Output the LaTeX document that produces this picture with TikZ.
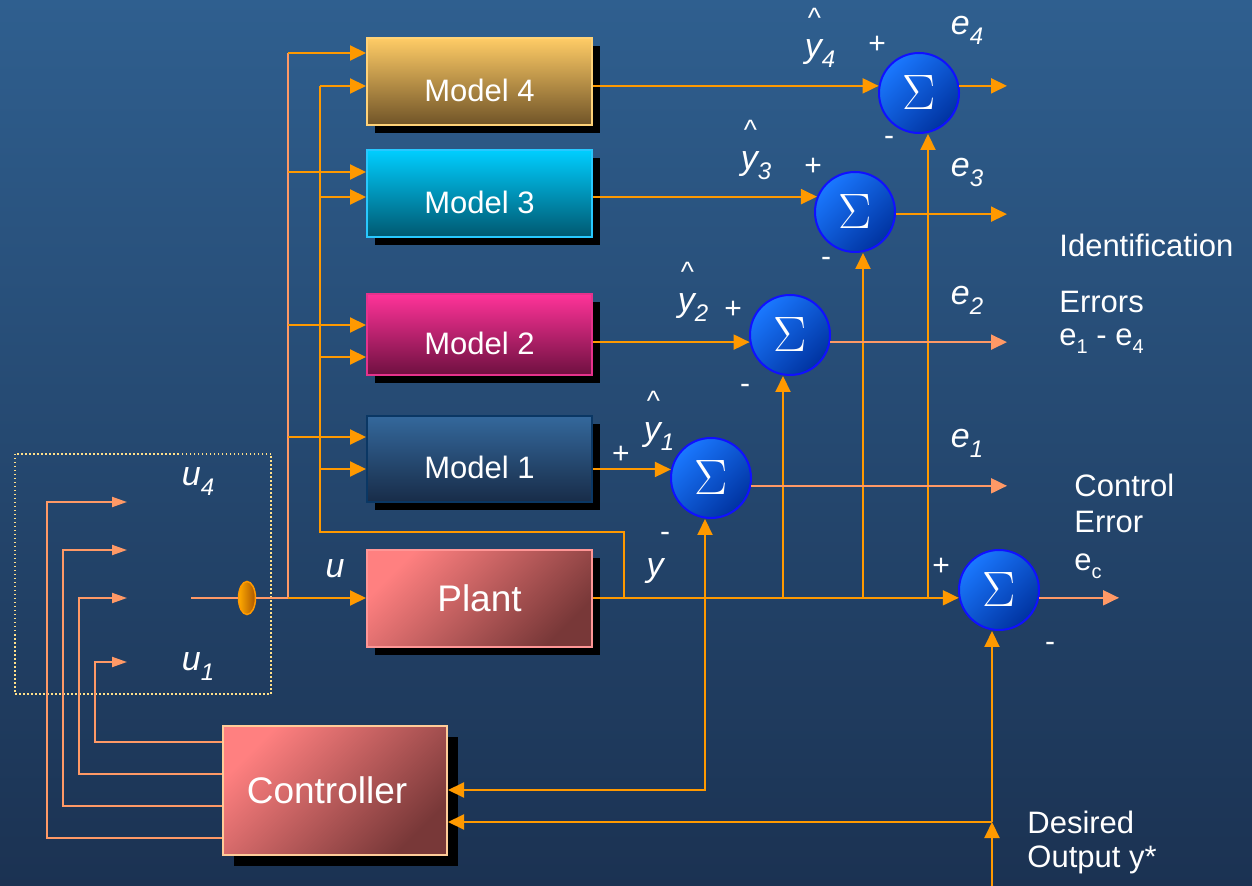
\documentclass[tikz,border=0pt]{standalone}
\usepackage{fontspec}
\setmainfont{Liberation Sans}
\newfontfamily\sigmafont{Liberation Serif}
\usetikzlibrary{arrows.meta,shapes.geometric,shadows,backgrounds,calc}
\definecolor{bgtop}{HTML}{2F5F8F}
\definecolor{bgbot}{HTML}{1B3252}
\definecolor{lorange}{HTML}{FF9900}
\definecolor{salmon}{HTML}{FF9966}
\definecolor{sigtop}{HTML}{1A78FF}
\definecolor{sigbot}{HTML}{0033A0}
\definecolor{sigline}{HTML}{1010FF}
\definecolor{dotcol}{HTML}{FFE08A}
\newcommand{\mtext}[1]{\raisebox{-10pt}[0pt][0pt]{#1}}
\newcommand{\sbx}[1]{\raisebox{-5pt}{\fontsize{12}{12}\selectfont #1}}
\newcommand{\yhatlab}[1]{\begin{tabular}{@{}l@{}}\hspace{1.5pt}\textup{\fontsize{14}{14}\selectfont\textasciicircum}\\[-3pt] y\sbx{#1}\end{tabular}}
\begin{document}
\begin{tikzpicture}[x=0.5pt,y=-0.5pt,
  every node/.style={text=white},
  lab/.style={inner sep=0pt, font=\fontsize{15.5}{18}\selectfont},
  ilab/.style={inner sep=0pt, font=\fontsize{17}{18}\selectfont\itshape},
  sgn/.style={inner sep=0pt, font=\fontsize{15}{18}\selectfont},
  arr/.style={draw=lorange, line width=1pt, -{Triangle[length=8pt,width=7.5pt]}},
  sarr/.style={draw=salmon, line width=1pt, -{Triangle[length=8pt,width=7.5pt]}},
  ssarr/.style={draw=salmon, line width=1pt, -{Triangle[length=7.5pt,width=5pt]}},
  oline/.style={draw=lorange, line width=1pt},
  sline/.style={draw=salmon, line width=1pt},
  mbox/.style={rectangle, draw, line width=1pt, minimum width=112.5pt, inner sep=0pt,
    font=\fontsize{15.5}{18}\selectfont,
    drop shadow={shadow xshift=4pt, shadow yshift=-4pt, opacity=1, fill=black}},
  sig/.style={circle, draw=sigline, line width=1pt, minimum size=40pt, inner sep=0pt,
    top color=sigtop, bottom color=sigbot, shading angle=45,
    font=\sigmafont\fontsize{28}{28}\selectfont}
]
\begin{scope}[on background layer]
\shade[top color=bgtop, bottom color=bgbot] (0,0) rectangle (1252,886);
\end{scope}
\useasboundingbox (0,0) rectangle (1252,886);

% dotted switch box
\draw[dotcol, line width=0.75pt, dash pattern=on 0.75pt off 1.25pt] (15,454) rectangle (271,694);

% blocks
\node[mbox, minimum height=43.5pt, draw={rgb,255:red,255;green,210;blue,120}, top color={rgb,255:red,255;green,204;blue,102}, bottom color={rgb,255:red,112;green,84;blue,40}] (m4) at (479.5,81.5) {\mtext{Model 4}};
\node[mbox, minimum height=43.5pt, draw={rgb,255:red,40;green,200;blue,255}, top color={rgb,255:red,0;green,206;blue,255}, bottom color={rgb,255:red,0;green,88;blue,112}] (m3) at (479.5,193.5) {\mtext{Model 3}};
\node[mbox, minimum height=40.5pt, draw={rgb,255:red,230;green,50;blue,140}, top color={rgb,255:red,255;green,51;blue,153}, bottom color={rgb,255:red,110;green,16;blue,64}] (m2) at (479.5,334.5) {\mtext{Model 2}};
\node[mbox, minimum height=43pt, draw={rgb,255:red,10;green,55;blue,100}, top color={rgb,255:red,52;green,104;blue,156}, bottom color={rgb,255:red,24;green,44;blue,72}] (m1) at (479.5,459) {\mtext{Model 1}};
\node[mbox, minimum height=48.5pt, draw={rgb,255:red,255;green,150;blue,150},
  font=\fontsize{18.5}{22}\selectfont,
  top color={rgb,255:red,255;green,128;blue,128}, bottom color={rgb,255:red,120;green,56;blue,56}, shading angle=45] (plant) at (479.5,598.5) {Plant};
\node[rectangle, draw={rgb,255:red,255;green,204;blue,153}, line width=1pt, minimum width=112pt, minimum height=64.5pt, inner sep=0pt,
  font=\fontsize{18.5}{22}\selectfont,
  drop shadow={shadow xshift=5.5pt, shadow yshift=-5.5pt, opacity=1, fill=black},
  top color={rgb,255:red,255;green,128;blue,128}, bottom color={rgb,255:red,120;green,56;blue,56}, shading angle=45] (ctrl) at (335,790.5) {\hspace*{-8pt}Controller};

% summing junctions
\node[sig] (s1) at (711,478) {$\Sigma$};
\node[sig] (s2) at (790,335) {$\Sigma$};
\node[sig] (s3) at (855,212) {$\Sigma$};
\node[sig] (s4) at (919,93) {$\Sigma$};
\node[sig] (sc) at (999,590) {$\Sigma$};

% switch
\node[ellipse, draw=lorange, line width=0.75pt, minimum width=8.5pt, minimum height=16.5pt, inner sep=0pt,
  left color={rgb,255:red,255;green,170;blue,0}, right color={rgb,255:red,170;green,85;blue,0}] (el) at (247,598) {};

% coordinates
\coordinate (sw) at (191,598);
\coordinate (ju) at (288,598);
\coordinate (u4a) at (288,53);
\coordinate (u3a) at (288,172);
\coordinate (u2a) at (288,325);
\coordinate (u1a) at (288,437);
\coordinate (yb) at (624,598);
\coordinate (yc) at (624,532);
\coordinate (yl) at (320,532);
\coordinate (y4b) at (320,86);
\coordinate (y3b) at (320,197);
\coordinate (y2b) at (320,357);
\coordinate (y1b) at (320,469);
\coordinate (j1) at (705,598);
\coordinate (j2) at (783,598);
\coordinate (j3) at (863,598);
\coordinate (j4) at (928,598);
\coordinate (c1) at (705,790);
\coordinate (d0) at (992,886);
\coordinate (d1) at (992,822);
\coordinate (ox) at (1007,0);
\coordinate (ocx) at (1119,0);
\coordinate (k1) at (95,742);  \coordinate (k1t) at (95,662);  \coordinate (t1) at (127,662);
\coordinate (k2) at (79,774);  \coordinate (k2t) at (79,598);  \coordinate (t2) at (127,598);
\coordinate (k3) at (63,806);  \coordinate (k3t) at (63,550);  \coordinate (t3) at (127,550);
\coordinate (k4) at (47,838);  \coordinate (k4t) at (47,502);  \coordinate (t4) at (127,502);

% switch and u line
\draw[sline] (sw) -- (el.west);
\draw[sline] (el.east) -- (ju);
\draw[sline] (ju) -- (u4a);
\draw[arr] (ju) -- (plant.west |- ju);
\draw[arr] (u4a) -- (u4a -| m4.west);
\draw[arr] (u3a) -- (u3a -| m3.west);
\draw[arr] (u2a) -- (u2a -| m2.west);
\draw[arr] (u1a) -- (u1a -| m1.west);

% plant output feedback to models
\draw[oline] (yb) -- (yc) -- (yl) -- (y4b);
\draw[arr] (y4b) -- (y4b -| m4.west);
\draw[arr] (y3b) -- (y3b -| m3.west);
\draw[arr] (y2b) -- (y2b -| m2.west);
\draw[arr] (y1b) -- (y1b -| m1.west);

% model outputs to sums
\draw[arr] (m4.east |- s4.170) -- (s4.170);
\draw[arr] (m3.east |- s3.158) -- (s3.158);
\draw[arr] (m2.east |- s2.190) -- (s2.190);
\draw[arr] (m1.east |- s1.168) -- (s1.168);

% plant output to control sum
\draw[arr] (plant.east |- sc.191) -- (sc.191);
\draw[arr] (j1) -- (j1 |- s1.south);
\draw[arr] (j2) -- (j2 |- s2.south);
\draw[arr] (j3) -- (j3 |- s3.south);
\draw[arr] (j4) -- (j4 |- s4.south);
\draw[arr] (j1) -- (c1) -- (c1 -| ctrl.east);

% desired output
\draw[arr] (d0) -- (d1);
\draw[arr] (d1) -- (d1 |- sc.south);
\draw[arr] (d1) -- (d1 -| ctrl.east);

% error outputs
\draw[arr] (s4.10) -- (s4.10 -| ox);
\draw[arr] (s3.-3) -- (s3.-3 -| ox);
\draw[sarr] (s2.-10) -- (s2.-10 -| ox);
\draw[sarr] (s1.-11.5) -- (s1.-11.5 -| ox);
\draw[sarr] (sc.-11.5) -- (sc.-11.5 -| ocx);

% controller outputs to switch
\draw[ssarr] (ctrl.west |- k1) -- (k1) -- (k1t) -- (t1);
\draw[ssarr] (ctrl.west |- k2) -- (k2) -- (k2t) -- (t2);
\draw[ssarr] (ctrl.west |- k3) -- (k3) -- (k3t) -- (t3);
\draw[ssarr] (ctrl.west |- k4) -- (k4) -- (k4t) -- (t4);

% labels: y hats
\node[ilab] (ly4) at (820,35) {\yhatlab{4}};
\node[ilab] (ly3) at (756,147) {\yhatlab{3}};
\node[ilab] (ly2) at (693,289) {\yhatlab{2}};
\node[ilab] (ly1) at (659,418) {\yhatlab{1}};

% e labels
\node[ilab] (le4) at (967,30) {e\sbx{4}};
\node[ilab] (le3) at (967,172) {e\sbx{3}};
\node[ilab] (le2) at (967,300) {e\sbx{2}};
\node[ilab] (le1) at (967,443) {e\sbx{1}};

% signs
\node[sgn] (p4) at (877,45) {+};
\node[sgn] (p3) at (813,167) {+};
\node[sgn] (p2) at (733,310) {+};
\node[sgn] (p1) at (621,455) {+};
\node[sgn] (pc) at (941,567) {+};
\node[sgn] (n4) at (889,141) {-};
\node[sgn] (n3) at (826,262) {-};
\node[sgn] (n2) at (745,389) {-};
\node[sgn] (n1) at (665,537) {-};
\node[sgn] (nc) at (1050,647) {-};

% u, y labels
\node[ilab] (lu) at (335,569) {u};
\node[ilab] (lyy) at (655,571) {y};
\node[ilab] (lu4) at (198,482) {u\sbx{4}};
\node[ilab] (lu1) at (198,667) {u\sbx{1}};

% right-hand texts
\node[lab, anchor=west] (tid) at (1059,245) {Identification};
\node[lab, anchor=west] (ter) at (1059,302) {Errors};
\node[lab, anchor=west] (te14) at (1059,341) {e\raisebox{-4pt}{\fontsize{10}{10}\selectfont 1} - e\raisebox{-4pt}{\fontsize{10}{10}\selectfont 4}};
\node[lab, anchor=west] (tco) at (1074,485) {Control};
\node[lab, anchor=west] (terr) at (1074,522) {Error};
\node[lab, anchor=west] (tec) at (1074,566) {e\raisebox{-4pt}{\fontsize{10}{10}\selectfont c}};
\node[lab, anchor=west] (tde) at (1027,822) {Desired};
\node[lab, anchor=west] (tout) at (1027,860) {Output y*};
\end{tikzpicture}
\end{document}
